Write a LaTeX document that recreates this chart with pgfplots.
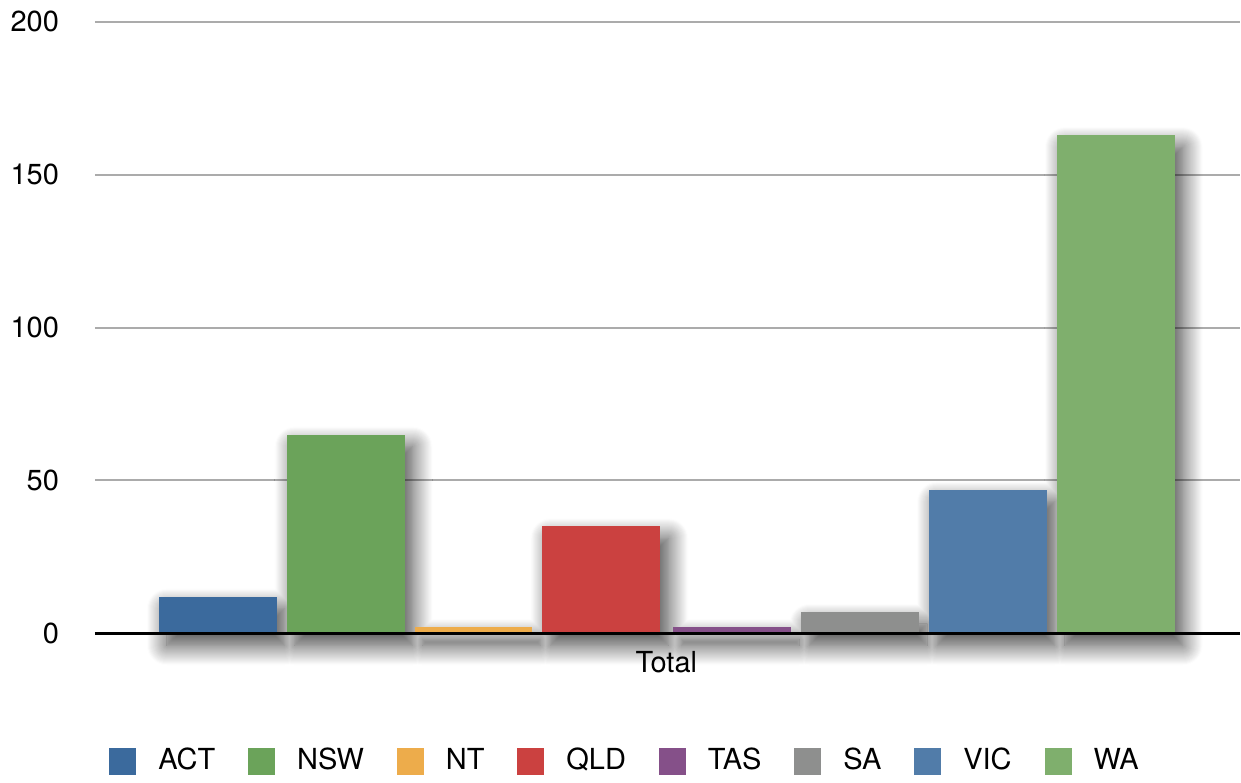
\documentclass[border=0pt]{standalone}
\usepackage{pgfplots}
\pgfplotsset{compat=1.18}
\usepackage{fontspec}
\setmainfont{TeX Gyre Heros}
\usetikzlibrary{shadows.blur}
\definecolor{cACT}{HTML}{3B6A9D}
\definecolor{cNSW}{HTML}{6BA35A}
\definecolor{cNT}{HTML}{EDAC4B}
\definecolor{cQLD}{HTML}{CB4140}
\definecolor{cTAS}{HTML}{855089}
\definecolor{cSA}{HTML}{8E8F8E}
\definecolor{cVIC}{HTML}{517CA9}
\definecolor{cWA}{HTML}{7FAF6D}
\pgfplotsset{sqlegend/.style={legend image code/.code={\fill[##1,draw=none] (0pt,-6.75pt) rectangle (13.5pt,6.75pt);}}}
\begin{document}
\fontsize{14.5pt}{17pt}\selectfont
\begin{tikzpicture}
\begin{axis}[
  scale only axis, width=573pt, height=306pt,
  xmin=95, xmax=1241, ymin=0, ymax=200,
  clip=false,
  axis line style={draw=none},
  major tick length=0pt,
  ytick={0,50,100,150,200},
  xtick={667}, xticklabels={Total},
  ymajorgrids, grid style={line width=1pt, color=black!33},
  /pgf/number format/assume math mode=true,
  yticklabel style={xshift=-13pt},
  xticklabel style={yshift=-4pt},
  every axis plot/.append style={ybar, bar width=118, bar shift=0pt, draw=none, sqlegend},
  legend columns=8,
  legend style={draw=none, fill=none, at={(0.464,-0.209)}, anchor=center,
    /tikz/every odd column/.append style={column sep=9pt},
    /tikz/every even column/.append style={column sep=14.5pt}},
]
\addplot[forget plot, fill=none, blur shadow={shadow xshift=4pt, shadow yshift=-6pt, shadow blur radius=10pt, shadow blur steps=20, shadow opacity=75}]
  coordinates {(218,12) (346,65) (474,2) (602,35) (733,2) (861,7) (989,47) (1117,163)};
\addplot[fill=cACT] coordinates {(218,12)};
\addplot[fill=cNSW] coordinates {(346,65)};
\addplot[fill=cNT] coordinates {(474,2)};
\addplot[fill=cQLD] coordinates {(602,35)};
\addplot[fill=cTAS] coordinates {(733,2)};
\addplot[fill=cSA] coordinates {(861,7)};
\addplot[fill=cVIC] coordinates {(989,47)};
\addplot[fill=cWA] coordinates {(1117,163)};
\legend{ACT,NSW,NT,QLD,TAS,SA,VIC,WA}
\draw[black, line width=1.3pt] (rel axis cs:0,0) -- (rel axis cs:1,0);
\coordinate (bbsw) at (rel axis cs:-0.0829,-0.2353);
\coordinate (bbne) at (rel axis cs:1,1.0359);
\end{axis}
\path (bbsw) rectangle (bbne);
\end{tikzpicture}
\end{document}
